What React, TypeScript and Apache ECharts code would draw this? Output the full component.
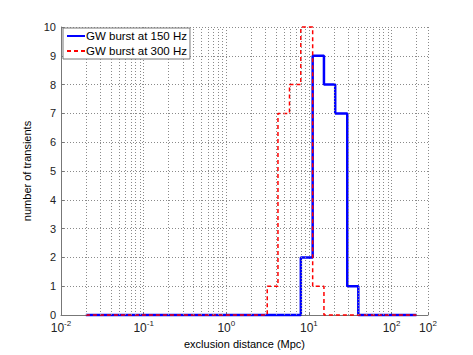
import React, { useEffect, useRef } from "react";
import * as echarts from "echarts";

const blueEdges = [0.02, 7.98, 11.1, 15.2, 20.8, 29.1, 39.6, 200];
const blueCounts = [0, 2, 9, 8, 7, 1, 0];
const redEdges = [0.02, 3.13, 4.22, 5.82, 7.98, 11.1, 15.2, 200];
const redCounts = [0, 1, 7, 8, 10, 1, 0];
const minorMultipliers = [2, 3, 4, 5, 6, 7, 8, 9];
const decades = [0.01, 0.1, 1, 10, 100];
const xMin = 0.01;
const xMax = 276;

function stepPoints(edges: number[], counts: number[]) {
  const pts: number[][] = [];
  for (let i = 0; i < counts.length; i++) pts.push([edges[i], counts[i]]);
  pts.push([edges[edges.length - 1], counts[counts.length - 1]]);
  return pts;
}

export default function App() {
  const ref = useRef<HTMLDivElement>(null);
  useEffect(() => {
    if (!ref.current) return;
    const chart = echarts.init(ref.current, null, { renderer: "svg" });
    const minorLines: any[] = [];
    decades.forEach((d) => {
      minorMultipliers.forEach((m) => {
        const v = d * m;
        if (v > xMin && v < xMax) minorLines.push({ xAxis: v });
      });
    });
    const font = "Liberation Sans, Arial, sans-serif";
    const gridStyle = { color: "#8a8a8a", type: [1, 2], width: 1 };
    chart.setOption({
      animation: false,
      textStyle: { fontFamily: font },
      grid: { left: 61, right: 45, top: 27, bottom: 40 },
      legend: {
        left: 63,
        top: 28,
        z: 50,
        zlevel: 1,
        orient: "vertical",
        itemWidth: 18,
        itemHeight: 10,
        itemGap: 3,
        padding: [2, 3, 2, 3],
        borderColor: "#777",
        borderWidth: 1,
        backgroundColor: "#fff",
        itemStyle: { opacity: 0 },
        textStyle: { fontSize: 11.5, color: "#000", fontFamily: font, padding: [0, 0, 0, -4] },
        data: ["GW burst at 150 Hz", "GW burst at 300 Hz"],
      },
      xAxis: {
        type: "log",
        logBase: 10,
        min: xMin,
        max: xMax,
        name: "exclusion distance (Mpc)",
        nameLocation: "middle",
        nameGap: 16,
        nameTextStyle: { fontSize: 11, color: "#000" },
        axisLine: { lineStyle: { color: "#777" } },
        axisTick: { inside: true, length: 3, lineStyle: { color: "#777" } },
        splitLine: { show: true, lineStyle: gridStyle },
        axisLabel: {
          color: "#222",
          fontSize: 12,
          margin: 4,
          formatter: (v: number) => {
            const e = Math.round(Math.log10(v));
            return "10{s|" + e + "}";
          },
          rich: { s: { fontSize: 8, padding: [0, 0, 10, 0], color: "#222" } },
        },
      },
      yAxis: {
        type: "value",
        min: 0,
        max: 10,
        interval: 1,
        name: "number of transients",
        nameLocation: "middle",
        nameGap: 12,
        nameTextStyle: { fontSize: 11, color: "#000" },
        axisLine: { show: true, lineStyle: { color: "#777" } },
        axisTick: { show: true, inside: true, length: 3, lineStyle: { color: "#777" } },
        splitLine: { show: true, lineStyle: gridStyle },
        axisLabel: { color: "#222", fontSize: 11, margin: 5 },
      },
      series: [
        {
          name: "GW burst at 150 Hz",
          type: "line",
          step: "end",
          symbol: "none",
          clip: false,
          data: stepPoints(blueEdges, blueCounts),
          lineStyle: { color: "#0000ff", width: 2.5 },
          itemStyle: { color: "#0000ff" },
          markLine: {
            silent: true,
            symbol: "none",
            label: { show: false },
            lineStyle: gridStyle,
            data: minorLines,
          },
          z: 2,
        },
        {
          name: "GW burst at 300 Hz",
          type: "line",
          step: "end",
          symbol: "none",
          clip: false,
          data: stepPoints(redEdges, redCounts),
          lineStyle: { color: "#ff0000", width: 1.5, type: [4, 3] },
          itemStyle: { color: "#ff0000" },
          z: 3,
        },
      ],
    });
    return () => chart.dispose();
  }, []);
  return <div ref={ref} style={{ width: 473, height: 355, position: "absolute", left: 0, top: 0 }} />;
}
